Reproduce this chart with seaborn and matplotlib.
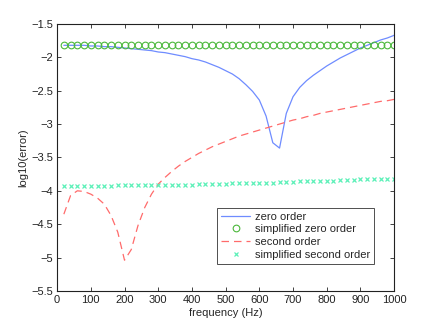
import matplotlib
matplotlib.use("Agg")
import matplotlib.pyplot as plt
import numpy as np
import pandas as pd
import seaborn as sns

# frequency grid (Hz)
freq = np.arange(20, 1001, 20)

zero_order = [
    -1.82, -1.82, -1.82, -1.82, -1.83, -1.83, -1.84, -1.84, -1.85, -1.86,
    -1.87, -1.88, -1.89, -1.90, -1.92, -1.93, -1.95, -1.97, -1.99, -2.02,
    -2.04, -2.07, -2.11, -2.15, -2.20, -2.25, -2.32, -2.41, -2.51, -2.64,
    -2.88, -3.28, -3.36, -2.84, -2.59, -2.45, -2.35, -2.27, -2.20, -2.13,
    -2.07, -2.01, -1.96, -1.91, -1.86, -1.82, -1.78, -1.74, -1.71, -1.67,
]
simplified_zero = [
    -1.81, -1.81, -1.81, -1.81, -1.81, -1.81, -1.81, -1.81, -1.81, -1.81,
    -1.81, -1.81, -1.81, -1.81, -1.81, -1.81, -1.81, -1.81, -1.81, -1.81,
    -1.81, -1.81, -1.81, -1.81, -1.81, -1.81, -1.81, -1.81, -1.81, -1.81,
    -1.81, -1.81, -1.81, -1.81, -1.81, -1.81, -1.81, -1.81, -1.81, -1.81,
    -1.81, -1.81, -1.81, -1.81, -1.81, -1.81, -1.81, -1.81, -1.81, -1.81,
]
second_order = [
    -4.35, -4.07, -4.00, -4.01, -4.05, -4.11, -4.20, -4.37, -4.62, -5.04,
    -4.88, -4.52, -4.25, -4.05, -3.90, -3.80, -3.71, -3.63, -3.56, -3.50,
    -3.44, -3.39, -3.34, -3.30, -3.26, -3.22, -3.18, -3.15, -3.12, -3.09,
    -3.06, -3.03, -3.00, -2.97, -2.94, -2.92, -2.89, -2.87, -2.84, -2.82,
    -2.80, -2.78, -2.76, -2.74, -2.72, -2.70, -2.68, -2.66, -2.65, -2.63,
]
simplified_second = [
    -3.93, -3.93, -3.93, -3.93, -3.93, -3.93, -3.93, -3.93, -3.92, -3.92,
    -3.92, -3.92, -3.92, -3.92, -3.92, -3.91, -3.91, -3.91, -3.91, -3.91,
    -3.90, -3.90, -3.90, -3.90, -3.90, -3.89, -3.89, -3.89, -3.88, -3.88,
    -3.88, -3.88, -3.87, -3.87, -3.87, -3.86, -3.86, -3.86, -3.85, -3.85,
    -3.85, -3.84, -3.84, -3.84, -3.83, -3.83, -3.83, -3.82, -3.82, -3.82,
]

sns.set_style("ticks")
plt.rcParams["font.family"] = ["Liberation Sans", "DejaVu Sans"]
plt.rcParams["font.size"] = 8

fig = plt.figure(figsize=(4.36, 3.28), dpi=100)
ax = fig.add_axes([0.131, 0.113, 0.773, 0.814])

df = pd.DataFrame({"freq": freq, "zero": zero_order, "szero": simplified_zero,
                   "second": second_order, "ssecond": simplified_second})

sns.lineplot(data=df, x="freq", y="zero", ax=ax, color="#6f8cff", lw=0.9,
             label="zero order")
sns.lineplot(data=df, x="freq", y="szero", ax=ax, color="#4cb83c", lw=0,
             marker="o", markersize=4.8, markerfacecolor="none",
             markeredgecolor="#4cb83c", markeredgewidth=0.8,
             label="simplified zero order")
sns.lineplot(data=df, x="freq", y="second", ax=ax, color="#ff6b6b", lw=0.9,
             dashes=(6, 4), label="second order")
sns.lineplot(data=df, x="freq", y="ssecond", ax=ax, color="#5cf0b8", lw=0,
             marker="x", markersize=3.2, markeredgewidth=0.9,
             markeredgecolor="#5cf0b8",
             label="simplified second order")

ax.set_xlim(0, 1000)
ax.set_ylim(-5.5, -1.5)
ax.set_xticks(np.arange(0, 1001, 100))
ax.set_yticks(np.arange(-5.5, -1.49, 0.5))
ax.set_yticklabels(["\u22125.5", "\u22125", "\u22124.5", "\u22124", "\u22123.5",
                    "\u22123", "\u22122.5", "\u22122", "\u22121.5"])
ax.tick_params(direction="in", length=3, width=0.6, top=True, right=True,
               labelsize=8, pad=3, colors="#222222")
for s in ax.spines.values():
    s.set_linewidth(0.8)
    s.set_color("#222222")
ax.set_xlabel("frequency (Hz)", fontsize=8, labelpad=2)
ax.set_ylabel("log10(error)", fontsize=8, labelpad=2)

leg = ax.legend(loc="lower right", bbox_to_anchor=(0.956, 0.081), fontsize=8,
                frameon=True, fancybox=False, borderpad=0.35,
                handlelength=2.6, labelspacing=0.25, handletextpad=0.4)
leg.get_frame().set_edgecolor("#222222")
leg.get_frame().set_linewidth(0.7)

fig.savefig("out.png", dpi=100)
